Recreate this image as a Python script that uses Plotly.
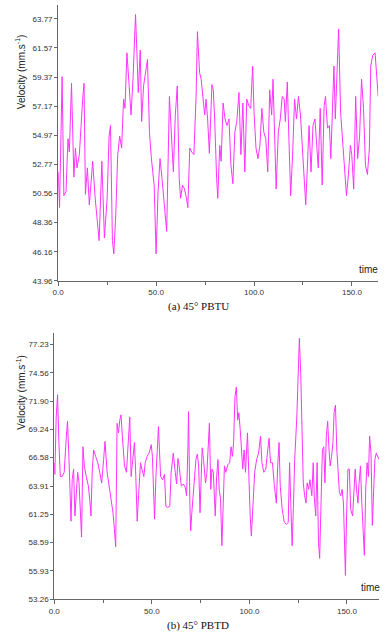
import plotly.graph_objects as go

# ---- data: (a) 45° PBTU ----
time_a = [0, 0.7, 2, 2.9, 4, 5, 5.7, 6.8, 8, 8.8, 9.6, 10.8, 12.5, 13.2, 13.9, 14.9, 15.9, 17.6, 18.9, 20.9,
          22.3, 23.6, 25, 26, 26.7, 27.7, 28.4, 29.4, 30.4, 31.4, 32.4, 33.4, 34.1, 35.1, 36.1, 37.2, 38.2, 39.5,
          40.2, 40.9, 41.9, 42.6, 43.6, 44.6, 45.6, 46.6, 47.6, 49, 50, 51, 52, 53, 54.4, 55.4, 56.8, 57.8, 58.8,
          59.8, 60.8, 61.8, 62.5, 63.5, 64.5, 65.5, 66.2, 67.2, 68.2, 69.3, 70.4, 71.1, 72.2, 73, 73.8, 74.8, 75.5,
          76.3, 77.2, 78.5, 79.2, 79.9, 80.9, 81.5, 82.5, 83.2, 84.2, 85.2, 86.2, 87.2, 88.2, 89.2, 90.2, 91.2,
          92.3, 93.3, 94.3, 95.3, 96.3, 97.3, 98.3, 99.3, 100, 101, 102, 103, 104, 105, 106, 107, 108, 109, 109.7,
          110.7, 111.3, 112.4, 113.4, 114.4, 115.4, 116, 117, 117.7, 118.7, 119.7, 120.7, 121.7, 122.7, 123.7,
          124.7, 125.8, 126.4, 127.4, 128.1, 129.1, 130.1, 131.1, 132.1, 132.8, 133.8, 134.8, 135.8, 136.5, 137.5,
          138.5, 139.2, 140.2, 140.8, 141.5, 142.5, 143.2, 144.2, 145.2, 146.2, 147.2, 148.2, 149.2, 149.9, 150.9,
          151.9, 152.9, 153.9, 154.9, 155.9, 156.9, 157.9, 158.9, 159.6, 160.6, 161.8, 162.6, 163.4]
vel_a = [52.2, 49.5, 59.4, 50.4, 50.7, 54.7, 53.7, 58.9, 51.8, 54.0, 52.5, 53.5, 57.7, 58.9, 50.5, 52.5, 49.7, 53.0,
         50.2, 47.0, 53.0, 47.2, 50.2, 54.9, 55.7, 47.0, 46.0, 49.0, 53.5, 54.9, 54.0, 57.7, 57.0, 61.2, 59.0, 56.5,
         59.2, 64.1, 61.2, 58.2, 61.4, 56.0, 58.7, 59.7, 60.7, 55.2, 53.2, 51.2, 46.0, 50.7, 53.2, 51.7, 49.0, 47.7,
         57.9, 54.7, 52.2, 56.5, 58.7, 51.7, 50.2, 51.2, 50.9, 50.2, 49.5, 54.0, 53.7, 53.5, 57.9, 62.8, 59.7, 59.2,
         57.7, 56.5, 57.7, 56.2, 53.6, 58.8, 58.4, 56.2, 51.7, 50.2, 54.2, 53.0, 57.4, 56.2, 55.7, 56.2, 52.7, 51.3,
         55.2, 56.0, 58.2, 53.5, 57.4, 52.2, 57.7, 57.2, 57.0, 60.2, 56.7, 54.0, 53.2, 54.2, 57.0, 55.2, 54.7, 52.2,
         58.4, 56.5, 59.2, 53.2, 50.9, 55.2, 56.2, 57.9, 57.7, 56.0, 59.0, 55.2, 50.4, 53.5, 57.7, 56.2, 57.9, 56.5,
         53.7, 50.7, 49.7, 53.2, 55.7, 52.2, 55.7, 56.2, 53.5, 52.5, 57.0, 51.2, 57.2, 57.9, 55.5, 55.7, 53.2, 57.9,
         60.2, 56.2, 60.7, 63.0, 56.7, 54.5, 53.0, 50.4, 52.0, 54.2, 53.5, 50.9, 57.9, 53.2, 54.9, 59.2, 57.0, 52.7,
         52.0, 54.0, 60.2, 61.0, 61.2, 59.7, 57.9]

# ---- data: (b) 45° PBTD ----
time_b = [0, 0.3, 1, 1.7, 2.4, 3.1, 4.1, 5.1, 6.2, 6.8, 7.5, 8.2, 8.6, 9.2, 9.9, 10.6, 11.3, 12, 12.7, 13.4, 14,
          14.7, 15.4, 16.4, 17.5, 18.5, 18.8, 19.5, 20.2, 21.2, 22.3, 23.3, 24.3, 25.3, 26, 27.1, 28.1, 29.1, 30.1,
          30.8, 31.5, 32.2, 32.9, 33.6, 34.2, 34.9, 36, 37, 38, 38.7, 39.4, 40.1, 41.1, 41.8, 42.5, 43.2, 44.2,
          44.9, 45.9, 46.6, 47.6, 48.6, 49.7, 50.3, 51.4, 52.1, 52.7, 53.4, 54.5, 55.5, 56.5, 57.2, 58.2, 59.2,
          59.9, 61, 62, 62.7, 63.4, 64, 65.1, 66.1, 67.1, 67.8, 68.5, 68.8, 69.5, 69.9, 70.5, 71.6, 72.6, 73.3,
          74, 74.7, 75.8, 76.5, 77.5, 78.2, 78.8, 79.5, 80.2, 80.8, 81.5, 82.2, 82.5, 83.2, 83.9, 84.5, 85.2, 85.9,
          86.5, 87.2, 87.9, 88.9, 89.9, 90.6, 91.3, 91.9, 92.6, 93.3, 94, 94.6, 95.3, 96, 96.6, 97.3, 98, 99, 99.7,
          100.4, 101, 101.7, 102.7, 103.7, 104.7, 105.7, 106.4, 107.4, 108.4, 109.4, 110.1, 110.8, 111.8, 112.8,
          113.8, 114.5, 115.2, 115.8, 116.8, 117.9, 118.9, 119.9, 120.6, 121.2, 121.9, 122.6, 123.2, 124.3, 124.9,
          125.6, 126.3, 127, 127.6, 128.3, 129, 129.6, 130.3, 131, 132, 132.7, 133.3, 134, 134.7, 135.4, 136,
          136.7, 137.4, 138.1, 138.7, 139.4, 140.1, 140.8, 141.4, 142.1, 142.8, 143.4, 144.1, 144.8, 145.5, 146.1,
          146.8, 147.5, 148.2, 148.8, 149.2, 149.8, 150.5, 151.2, 151.9, 152.9, 153.6, 154.2, 154.9, 155.6, 156.2,
          156.9, 157.6, 158.3, 158.9, 159.6, 160.3, 161, 161.6, 162.3, 163, 163.7, 164.3, 165, 165.7, 166.4]
vel_b = [66.1, 65.0, 70.4, 72.5, 67.9, 64.8, 64.8, 65.2, 68.6, 70.0, 66.7, 62.0, 60.6, 64.5, 65.5, 61.1, 63.6, 65.2,
         64.2, 61.1, 59.1, 67.6, 65.8, 64.8, 63.9, 62.0, 61.1, 65.5, 67.3, 66.7, 66.1, 65.2, 64.2, 66.4, 68.1, 65.2,
         63.9, 63.0, 61.4, 59.9, 58.2, 69.8, 68.9, 70.1, 70.6, 68.6, 65.8, 65.2, 68.0, 70.4, 64.8, 66.4, 68.0, 64.8,
         60.6, 63.0, 66.1, 65.5, 64.8, 66.1, 66.7, 67.0, 67.8, 66.7, 60.8, 64.8, 66.7, 69.5, 64.8, 64.5, 65.0, 62.0,
         61.9, 62.0, 65.2, 67.0, 65.2, 64.1, 66.5, 65.8, 63.9, 64.1, 63.8, 63.0, 67.6, 70.9, 62.3, 59.7, 61.4, 64.2,
         66.4, 66.9, 65.8, 61.4, 67.5, 66.4, 64.2, 65.1, 68.0, 69.8, 63.6, 65.5, 65.2, 62.0, 61.1, 64.8, 66.4, 63.6,
         62.7, 58.3, 63.0, 65.8, 65.2, 65.9, 66.1, 67.6, 66.7, 68.0, 72.3, 73.2, 70.1, 70.8, 69.2, 67.0, 65.5, 67.3,
         65.2, 68.9, 64.2, 61.1, 59.2, 61.4, 65.2, 66.4, 67.0, 68.6, 66.1, 65.2, 65.5, 67.3, 68.4, 66.1, 66.1, 63.9,
         62.3, 65.8, 68.0, 63.9, 61.7, 60.5, 60.3, 60.5, 66.1, 62.3, 58.3, 62.3, 66.4, 70.4, 74.5, 77.8, 74.5, 67.3,
         64.2, 63.0, 62.3, 64.2, 63.6, 64.5, 63.0, 66.1, 62.7, 61.1, 66.1, 58.6, 57.1, 62.3, 67.3, 67.6, 64.2, 68.6,
         70.0, 67.3, 65.8, 66.7, 68.0, 70.8, 71.5, 67.3, 64.8, 63.3, 63.0, 63.6, 62.3, 56.8, 55.5, 61.1, 65.5, 65.5,
         61.7, 61.1, 63.9, 65.5, 63.6, 62.3, 64.2, 65.8, 62.3, 60.2, 57.4, 63.6, 66.1, 64.8, 68.6, 67.0, 60.2, 63.6,
         66.4, 67.0, 66.7, 66.4]

yticks_a = [43.96, 46.16, 48.36, 50.56, 52.77, 54.97, 57.17, 59.37, 61.57, 63.77]
yticks_b = [53.26, 55.93, 58.59, 61.25, 63.91, 66.58, 69.24, 71.90, 74.56, 77.23]
xticks = [0, 50, 100, 150]
xticks_minor = [25, 75, 125]
xtick_text = ["0.0", "50.0", "100.0", "150.0"]

W, H = 391, 640
LINE = "#ff33ff"
AX = "#666666"
TICKFONT = dict(family="Liberation Sans, Arial, sans-serif", size=8, color="#333333")

fig = go.Figure()
fig.add_trace(go.Scatter(x=time_a, y=vel_a, mode="lines", line=dict(color=LINE, width=1),
                         xaxis="x", yaxis="y", showlegend=False, hoverinfo="skip"))
fig.add_trace(go.Scatter(x=time_b, y=vel_b, mode="lines", line=dict(color=LINE, width=1),
                         xaxis="x2", yaxis="y2", showlegend=False, hoverinfo="skip"))


def xax(domain, rng, anchor):
    return dict(domain=domain, range=rng, anchor=anchor, showgrid=False, zeroline=False,
                showline=True, linecolor=AX, linewidth=1, ticks="outside", ticklen=4,
                tickcolor=AX, tickvals=xticks, ticktext=xtick_text, tickfont=TICKFONT,
                minor=dict(tickvals=xticks_minor, ticks="outside", ticklen=3, tickcolor=AX))


def yax(domain, rng, anchor, vals):
    return dict(domain=domain, range=rng, anchor=anchor, showgrid=False, zeroline=False,
                showline=True, linecolor=AX, linewidth=1, ticks="outside", ticklen=3,
                tickcolor=AX, tickvals=vals, ticktext=["%.2f" % v for v in vals], tickfont=TICKFONT)


fig.update_layout(
    width=W, height=H, margin=dict(l=0, r=0, t=0, b=0),
    paper_bgcolor="white", plot_bgcolor="white",
    xaxis=xax([53 / W, 378 / W], [0, 163.4], "y"),
    yaxis=yax([1 - 283 / H, 1 - 5 / H], [43.96, 64.82], "x", yticks_a),
    xaxis2=xax([49 / W, 379 / W], [0, 166.5], "y2"),
    yaxis2=yax([1 - 604 / H, 1 - 336 / H], [53.26, 78.26], "x2", yticks_b),
)

ann_font = dict(family="Liberation Sans, Arial, sans-serif", size=10, color="#222222")
cap_font = dict(family="Liberation Serif, Times New Roman, serif", size=11, color="#111111")
anns = [
    dict(text="Velocity (mm.s<sup>-1</sup>)", x=15 / W, y=1 - 72 / H, textangle=-90, font=ann_font),
    dict(text="Velocity (mm.s<sup>-1</sup>)", x=15 / W, y=1 - 395 / H, textangle=-90, font=ann_font),
    dict(text="time", x=368 / W, y=1 - 272 / H, font=ann_font),
    dict(text="time", x=370 / W, y=1 - 592 / H, font=ann_font),
    dict(text="(a) 45° PBTU", x=195 / W, y=1 - 309 / H, font=cap_font),
    dict(text="(b) 45° PBTD", x=195 / W, y=1 - 630 / H, font=cap_font),
]
for a in anns:
    a.update(xref="paper", yref="paper", showarrow=False, xanchor="center", yanchor="middle")
fig.update_layout(annotations=anns)

fig.write_html("out.html", config={"displayModeBar": False},
               post_script="document.body.style.margin='0';document.body.style.overflow='hidden';")
